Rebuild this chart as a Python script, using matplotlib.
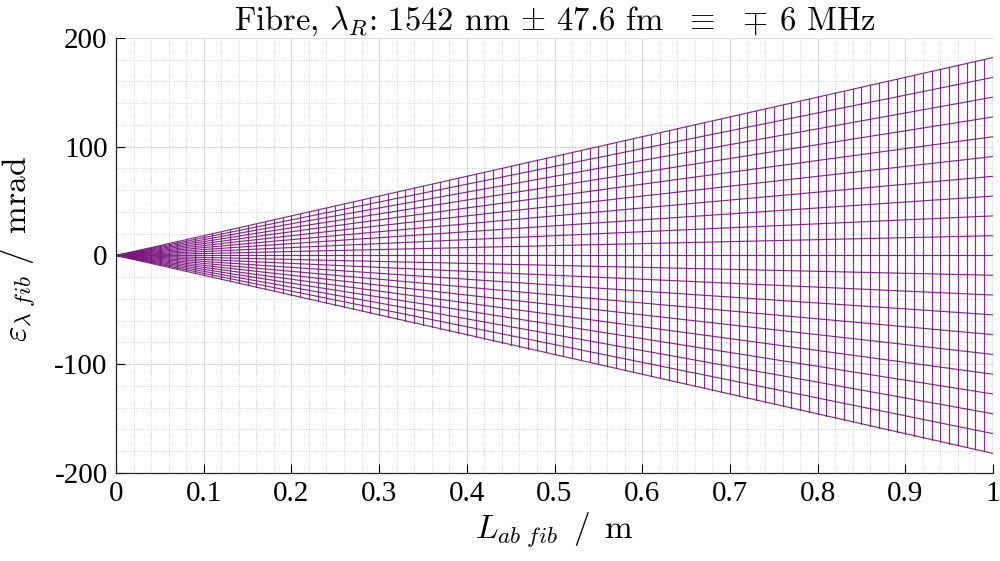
import numpy as np
import matplotlib
matplotlib.use('Agg')
import matplotlib.pyplot as plt

# Comprimento da fibra (m), passo de 1 cm
L_fib = np.linspace(0, 1, 101)

# Desvio de frequência (MHz) e erro de fase em L = 1 m (mrad)
df_mhz = [-6.0, -5.4, -4.8, -4.2, -3.6, -3.0, -2.4, -1.8, -1.2, -0.6, 0.0,
          0.6, 1.2, 1.8, 2.4, 3.0, 3.6, 4.2, 4.8, 5.4, 6.0]
eps_1m = [-182.0, -163.8, -145.6, -127.4, -109.2, -91.0, -72.8, -54.6, -36.4, -18.2, 0.0,
          18.2, 36.4, 54.6, 72.8, 91.0, 109.2, 127.4, 145.6, 163.8, 182.0]

x_ticks = [0, 0.1, 0.2, 0.3, 0.4, 0.5, 0.6, 0.7, 0.8, 0.9, 1]
x_ticklabels = ['0', '0.1', '0.2', '0.3', '0.4', '0.5', '0.6', '0.7', '0.8', '0.9', '1']
y_ticks = [-200, -100, 0, 100, 200]
y_ticklabels = ['-200', '-100', '0', '100', '200']

plt.rcParams['mathtext.fontset'] = 'cm'
plt.rcParams['font.family'] = ['Liberation Serif', 'DejaVu Serif']
plt.rcParams['axes.unicode_minus'] = False

# Malha (como o mesh do MATLAB visto de cima)
X, E = np.meshgrid(L_fib, np.array(eps_1m))
Z = X * E

fig = plt.figure(figsize=(10, 5.61), dpi=100)
ax = fig.add_axes([0.116, 0.1569, 0.877, 0.7754])

cor = '#7a167d'
ax.plot(L_fib, Z.T, color=cor, lw=0.85, alpha=0.9)
ax.plot(X, Z, color=cor, lw=0.85, alpha=0.9)

ax.set_xlim(0, 1)
ax.set_ylim(-200, 200)
ax.set_xticks(x_ticks)
ax.set_xticklabels(x_ticklabels)
ax.set_yticks(y_ticks)
ax.set_yticklabels(y_ticklabels)
ax.set_xticks(np.arange(0, 1.0001, 0.02), minor=True)
ax.set_yticks(np.arange(-200, 201, 20), minor=True)

ax.grid(which='major', color='#d9d9d9', lw=0.8, ls='-')
ax.grid(which='minor', color='#c4c4c4', lw=0.6, ls=':')
ax.set_axisbelow(True)

ax.tick_params(which='major', direction='in', length=6.5, width=0.8, labelsize=21,
               top=False, right=False, pad=6)
ax.tick_params(which='minor', length=0)
for s in ['top', 'right']:
    ax.spines[s].set_visible(False)
for s in ['left', 'bottom']:
    ax.spines[s].set_color('#262626')
    ax.spines[s].set_linewidth(0.9)

# Título em Computer Modern (cmr10 vem com o matplotlib)
ax.set_title(r'Fibre, $\lambda_R$: 1542 nm $\pm$ 47.6 fm  $\equiv$  $\mp$ 6 MHz',
             fontsize=23.5, pad=5, family='cmr10')
ax.set_xlabel(r'$L_{ab\ fib}\ \,/\ \,\mathrm{m}$', fontsize=24, labelpad=2)
ax.set_ylabel(r'$\varepsilon_{\lambda\ fib}\ /\ \,\mathrm{mrad}$', fontsize=24)
ax.yaxis.set_label_coords(-0.09, 0.515)

fig.savefig('out.png', dpi=100)
